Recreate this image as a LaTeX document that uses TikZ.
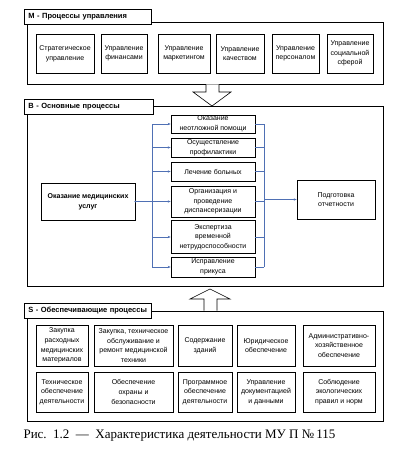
\documentclass[tikz,border=0pt]{standalone}
\usepackage{fontspec}
\setmainfont{Liberation Sans}
\newfontfamily\capfont{Liberation Serif}
\usepackage{tikz}
\usetikzlibrary{arrows.meta}
\definecolor{flowblue}{RGB}{79, 112, 180}

\begin{document}
\begin{tikzpicture}[
	x=1pt, y=-1pt,
	frame/.style={draw, line width=0.8pt},
	tab/.style={draw, fill=white, line width=0.8pt, anchor=west,
		text width=119pt, align=left, minimum height=15pt,
		inner xsep=4pt, font=\fontsize{7.5}{9}\selectfont\bfseries},
	procbox/.style={draw, line width=0.7pt, align=center, inner sep=1pt,
		font=\fontsize{7}{9.6}\selectfont},
	link/.style={color=flowblue, line width=0.5pt},
	flow/.style={link, -{Stealth[length=3pt, width=2.4pt]}},
	blockarrow/.style={draw, fill=white, line width=0.6pt}
	]
	\useasboundingbox (0,0) rectangle (406,460);

	% M - management
	\node[frame, minimum width=356pt, minimum height=62pt] (mgrp) at (205,53) {};
	\node[tab] (mtab) at (24,17) {M - Процессы управления};
	\node[procbox, minimum width=58pt, minimum height=39pt] (m1) at (65,53.5)
		{Стратегическое\\управление};
	\node[procbox, minimum width=46pt, minimum height=39pt] (m2) at (124,53.5)
		{Управление\\финансами};
	\node[procbox, minimum width=52pt, minimum height=39pt] (m3) at (184,53.5)
		{Управление\\маркетингом};
	\node[procbox, minimum width=48pt, minimum height=39pt] (m4) at (240,53.5)
		{Управление\\качеством};
	\node[procbox, minimum width=47pt, minimum height=39pt] (m5) at (295.5,53.5)
		{Управление\\персоналом};
	\node[procbox, minimum width=46pt, minimum height=39pt] (m6) at (350,53.5)
		{Управление\\социальной\\сферой};

	% B - main
	\node[frame, minimum width=356pt, minimum height=180pt] (bgrp) at (205,196) {};
	\node[tab, text width=121pt] (btab) at (24,106.5) {B - Основные процессы};
	\node[procbox, minimum width=84pt, minimum height=18pt] (b1) at (213,124)
		{Оказание\\неотложной помощи};
	\node[procbox, minimum width=84pt, minimum height=19pt] (b2) at (213,147.5)
		{Осуществление\\профилактики};
	\node[procbox, minimum width=84pt, minimum height=19pt] (b3) at (213,171.5)
		{Лечение больных};
	\node[procbox, minimum width=84pt, minimum height=31pt] (b4) at (213,201.5)
		{Организация и\\проведение\\диспансеризации};
	\node[procbox, minimum width=84pt, minimum height=33pt] (b5) at (213,237)
		{Экспертиза\\временной\\нетрудоспособности};
	\node[procbox, minimum width=84pt, minimum height=20pt] (b6) at (213,267)
		{Исправление\\прикуса};
	\node[procbox, minimum width=94pt, minimum height=37pt,
		font=\fontsize{7}{9.6}\selectfont\bfseries] (serv) at (88,201.5)
		{Оказание медицинских\\услуг};
	\node[procbox, minimum width=78pt, minimum height=39pt] (report) at (336,199.5)
		{Подготовка\\отчетности};

	\coordinate (ltrunk) at (152,0);
	\coordinate (rtrunk) at (264,0);
	\draw[link] (ltrunk |- b1.west) -- (ltrunk |- b6.west);
	\draw[link] (rtrunk |- b1.east) -- (rtrunk |- b6.east);
	\foreach \b in {b1,b2,b3,b5,b6}{
		\draw[flow] (ltrunk |- \b.west) -- (\b.west);
	}
	\foreach \b in {b1,b2,b3,b4,b5,b6}{
		\draw[link] (\b.east) -- (rtrunk |- \b.east);
	}
	\draw[flow] (serv.east) -- (b4.west);
	\fill[flowblue] (serv.east) circle (1pt);
	\draw[flow] (rtrunk |- report.west) -- (report.west);

	% S - support
	\node[frame, minimum width=356pt, minimum height=110pt] (sgrp) at (205,366) {};
	\node[tab] (stab) at (24,310.5) {S - Обеспечивающие процессы};
	\node[procbox, minimum width=52pt, minimum height=41pt] (s1) at (62,345.5)
		{Закупка\\расходных\\медицинских\\материалов};
	\node[procbox, minimum width=79pt, minimum height=41pt] (s2) at (133.5,345.5)
		{Закупка, техническое\\обслуживание и\\ремонт медицинской\\техники};
	\node[procbox, minimum width=54pt, minimum height=41pt] (s3) at (205,345.5)
		{Содержание\\зданий};
	\node[procbox, minimum width=58pt, minimum height=41pt] (s4) at (266,345.5)
		{Юридическое\\обеспечение};
	\node[procbox, minimum width=72pt, minimum height=41pt] (s5) at (339,345.5)
		{Административно-\\хозяйственное\\обеспечение};
	\node[procbox, minimum width=52pt, minimum height=40pt] (s6) at (62,392)
		{Техническое\\обеспечение\\деятельности};
	\node[procbox, minimum width=79pt, minimum height=40pt] (s7) at (133.5,392)
		{Обеспечение\\охраны и\\безопасности};
	\node[procbox, minimum width=54pt, minimum height=40pt] (s8) at (205,392)
		{Программное\\обеспечение\\деятельности};
	\node[procbox, minimum width=58pt, minimum height=40pt] (s9) at (266,392)
		{Управление\\документацией\\и данными};
	\node[procbox, minimum width=72pt, minimum height=40pt] (s10) at (339,392)
		{Соблюдение\\экологических\\правил и норм};

	% block arrows between the groups
	\draw[blockarrow] (206,84.4) -- (206,92) -- (193,92) -- (212,106)
		-- (231,92) -- (219,92) -- (219,84.4);
	\draw[blockarrow] (204,310.6) -- (204,299) -- (190,299) -- (210,289)
		-- (230,299) -- (217,299) -- (217,310.6);

	\node[anchor=west, font=\capfont\fontsize{13}{15}\selectfont] (caption) at (20,436)
		{Рис.\ \ 1.2\ \ —\ \ Характеристика деятельности МУ П №\,115};
\end{tikzpicture}
\end{document}
